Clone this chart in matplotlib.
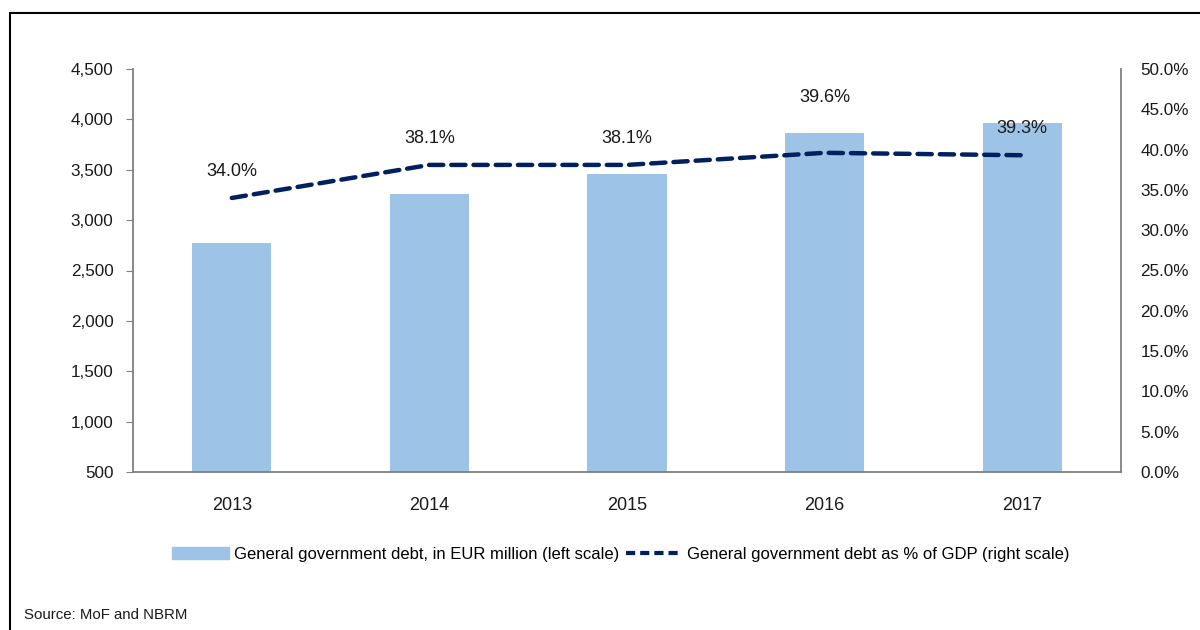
import matplotlib
matplotlib.use("Agg")
import matplotlib.pyplot as plt
from matplotlib.patches import Rectangle
from matplotlib.lines import Line2D
from matplotlib.ticker import FuncFormatter, MultipleLocator

plt.rcParams['font.family'] = ['Liberation Sans', 'DejaVu Sans']

years = ["2013", "2014", "2015", "2016", "2017"]
debt_eur_mn = [2773, 3259, 3458, 3865, 3964]
debt_pct_gdp = [34.0, 38.1, 38.1, 39.6, 39.3]
label_offsets = [19, 19, 19, 40, 19]  # vertical label offsets in points

bar_color = "#9DC3E6"
line_color = "#002060"
axis_gray = "#808080"
text_color = "#1a1a1a"

W, H = 1200, 630
fig = plt.figure(figsize=(W / 100, H / 100), dpi=100)

# outer frame
fig.patches.append(Rectangle((10 / W, -0.05), 1.2, 1 - 13 / H + 0.05, transform=fig.transFigure,
                             fill=False, edgecolor="black", linewidth=1.5))

ax = fig.add_axes([133 / W, 1 - 472 / H, (1121 - 133) / W, (472 - 69) / H])
ax2 = ax.twinx()

x = list(range(len(years)))
ax.bar(x, [v - 500 for v in debt_eur_mn], bottom=500, width=0.4, color=bar_color, zorder=2)
ax.set_xlim(-0.5, len(years) - 0.5)
ax.set_ylim(500, 4500)
ax.yaxis.set_major_locator(MultipleLocator(500))
ax.yaxis.set_major_formatter(FuncFormatter(lambda v, p: f"{v:,.0f}"))
ax.set_xticks(x)
ax.set_xticklabels(years)

ax2.plot(x, debt_pct_gdp, color=line_color, linewidth=3.2, dashes=(3.2, 1.8),
         dash_capstyle="round", zorder=3)
ax2.set_ylim(0, 50)
ax2.yaxis.set_major_locator(MultipleLocator(5))
ax2.yaxis.set_major_formatter(FuncFormatter(lambda v, p: f"{v:.1f}%"))
for xi, v, off in zip(x, debt_pct_gdp, label_offsets):
    ax2.annotate(f"{v:.1f}%", (xi, v), xytext=(0, off), textcoords="offset points",
                 ha="center", va="center", fontsize=13, color=text_color)

for a in (ax, ax2):
    for s in a.spines.values():
        s.set_visible(False)
for a, side in ((ax, 'left'), (ax, 'bottom'), (ax2, 'right')):
    a.spines[side].set_visible(True)
    a.spines[side].set_color(axis_gray)
    a.spines[side].set_linewidth(1.3)

ax.tick_params(axis='y', length=5, color=axis_gray, labelsize=12.3, pad=9, labelcolor=text_color)
ax.tick_params(axis='x', length=0, labelsize=13, pad=18, labelcolor=text_color)
ax2.tick_params(axis='y', length=0, labelsize=12.3, pad=14, labelcolor=text_color)

handles = [Rectangle((0, 0), 1, 1, color=bar_color),
           Line2D([0], [0], color=line_color, linewidth=3, dashes=(2.2, 1.2))]
labels = ["General government debt, in EUR million (left scale)",
          "General government debt as % of GDP (right scale)"]
fig.legend(handles, labels, loc="center", bbox_to_anchor=(621 / W, 1 - 554 / H), ncol=2,
           frameon=False, fontsize=12, handlelength=3.4, handletextpad=0.3, columnspacing=0.4)

fig.text(24 / W, 1 - 615 / H, "Source: MoF and NBRM", fontsize=10.8, va="center", color=text_color)

fig.savefig("out.png", dpi=100)
